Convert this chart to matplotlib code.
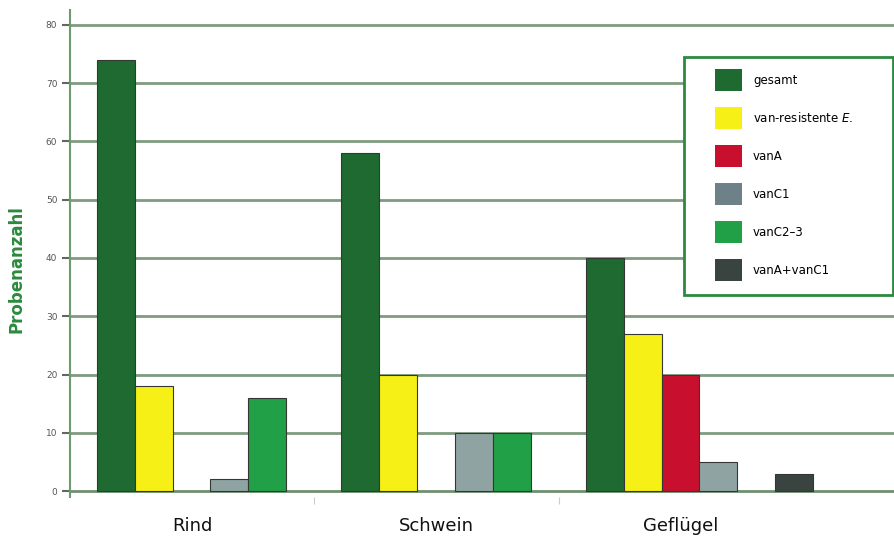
import numpy as np
import matplotlib.pyplot as plt
from matplotlib.patches import Patch, Rectangle

# ---------- data ----------
categories = ["Rind", "Schwein", "Geflügel"]
series = ["gesamt", "van-resistente $\\it{E}$.", "vanA", "vanC1", "vanC2–3", "vanA+vanC1"]
gesamt = [74, 58, 40]
van_resistente = [18, 20, 27]
van_a = [0, 0, 20]
van_c1 = [2, 10, 5]
van_c2_3 = [16, 10, 0]
van_a_c1 = [0, 0, 3]

values = [gesamt, van_resistente, van_a, van_c1, van_c2_3, van_a_c1]
colors = ["#1e6a30", "#f7f016", "#c8102e", "#8fa3a3", "#22a047", "#394441"]
legend_colors = ["#1e6a30", "#f7f016", "#c8102e", "#6e8088", "#22a047", "#394441"]

fig = plt.figure(figsize=(8.95, 5.39), dpi=100)
ax = fig.add_axes([0.078, 0.078, 0.922, 0.903])

grid_col = "#7f9c80"
for yv in range(10, 90, 10):
    ax.axhline(yv, color=grid_col, linewidth=2.0, zorder=0)
ax.axhline(0, color="#6f8f70", linewidth=2.0, zorder=1)

bar_w = 0.155
offset = 0.11
x = np.arange(len(categories))
for i, (vals, col) in enumerate(zip(values, colors)):
    vals = np.asarray(vals, dtype=float)
    keep = vals > 0
    ax.bar((x + offset + i * bar_w)[keep], vals[keep], width=bar_w, align="edge",
           color=col, edgecolor="#333833", linewidth=0.8, zorder=2)

ax.set_xlim(0, 3.375)
ax.set_ylim(-1, 82.5)

for s in ["top", "right", "bottom"]:
    ax.spines[s].set_visible(False)
ax.spines["left"].set_color("#6f9a70")
ax.spines["left"].set_linewidth(1.5)

ax.set_yticks(range(0, 90, 10))
ax.tick_params(axis="y", direction="out", length=6, width=1.5, color="#5c6b5c",
               labelsize=6.5, labelcolor="#555555", pad=3)
ax.set_xticks([1, 2])
ax.set_xticklabels([])
ax.tick_params(axis="x", length=5, width=0.8, color="#cccccc")

for i, c in enumerate(categories):
    ax.text(i + 0.5, -4.5, c, ha="center", va="top", fontsize=13,
            color="#111111", family="DejaVu Sans", clip_on=False)

fig.text(0.018, 0.50, "Probenanzahl", rotation=90, ha="center", va="center",
         fontsize=12, fontweight="bold", color="#2b8a3e")

# legend box drawn separately (padding differs left/top)
W, H = 895, 539
box = Rectangle((684 / W, 1 - 295 / H), (893 - 684) / W, (295 - 57) / H,
                transform=fig.transFigure, facecolor="white",
                edgecolor="#2b8a3e", linewidth=2.0, zorder=5)
fig.add_artist(box)

handles = [Patch(facecolor=c, edgecolor="none") for c in legend_colors]
leg = fig.legend(handles, series, loc="upper left",
                 bbox_to_anchor=(715 / W, 1 - 69 / H),
                 frameon=False, fontsize=8.5, handlelength=2.3,
                 handleheight=2.49, labelspacing=1.355, borderpad=0,
                 handletextpad=0.93, borderaxespad=0)
leg.set_zorder(6)

fig.savefig("out.png", dpi=100)
